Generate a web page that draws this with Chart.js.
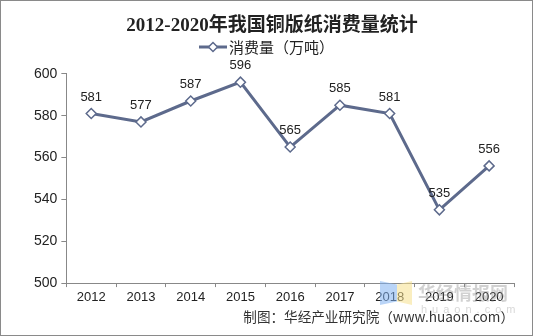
<!DOCTYPE html>
<html lang="zh">
<head>
<meta charset="UTF-8">
<title>2012-2020年我国铜版纸消费量统计</title>
<script src="https://cdn.jsdelivr.net/npm/chart.js"></script>
<style>
  html, body { margin: 0; padding: 0; background: #fff; }
  .wrap { position: relative; width: 531px; height: 334px; border: 1px solid #8a8a8a; }
  .logo { position: absolute; top: 280px; height: 24px; opacity: 0.55; }
  .logo.b { left: 379px; width: 17px; background: #7fb0f0; clip-path: polygon(0 0, 100% 15%, 100% 85%, 0 100%); }
  .logo.y { left: 396px; width: 15px; background: #f6e08c; clip-path: polygon(0 15%, 100% 0, 100% 100%, 0 85%); }
  .mark { position: absolute; left: 417px; top: 279px; font: bold 18px 'Noto Sans CJK SC', sans-serif; line-height: 24px; color: rgba(140,140,140,0.4); }
  .mark small { display: block; font: 11px 'Liberation Sans', sans-serif; line-height: 10px; letter-spacing: 5px; margin-left: 3px; color: rgba(140,140,140,0.35); }
</style>
</head>
<body>
<div class="wrap">
  <canvas id="c" width="531" height="334"></canvas>
  <div class="logo b"></div><div class="logo y"></div>
  <div class="mark">华经情报网<small>huaon.com</small></div>
</div>
<script>
const years = ['2012', '2013', '2014', '2015', '2016', '2017', '2018', '2019', '2020'];
const consumption = [581, 577, 587, 596, 565, 585, 581, 535, 556];
const yTicks = [500, 520, 540, 560, 580, 600];
const seriesName = '消费量（万吨）';

const lineColor = '#5d6a8c';
const labelFont = "13px 'Liberation Sans', Arial, sans-serif";
const legendFont = "15px 'Noto Sans CJK SC', sans-serif";

function diamond(g, x, y, r) {
  g.beginPath();
  g.moveTo(x, y - r); g.lineTo(x + r, y); g.lineTo(x, y + r); g.lineTo(x - r, y); g.closePath();
  g.fillStyle = '#fff';
  g.fill();
  g.lineWidth = 1.5;
  g.strokeStyle = lineColor;
  g.stroke();
}

// value labels above each point, plus the legend line under the title
const annotations = {
  id: 'annotations',
  afterDatasetsDraw(chart) {
    const ctx = chart.ctx;
    const meta = chart.getDatasetMeta(0);
    ctx.save();
    ctx.font = labelFont;
    ctx.fillStyle = '#222';
    ctx.textAlign = 'center';
    ctx.textBaseline = 'bottom';
    meta.data.forEach((pt, i) => {
      ctx.fillText(String(consumption[i]), pt.x, pt.y - 10);
    });

    ctx.font = legendFont;
    const tw = ctx.measureText(seriesName).width;
    const sw = 28, gap = 2, ly = 46;
    const lx = (chart.width - (sw + gap + tw)) / 2;
    ctx.strokeStyle = lineColor;
    ctx.lineWidth = 3;
    ctx.beginPath(); ctx.moveTo(lx, ly); ctx.lineTo(lx + sw, ly); ctx.stroke();
    diamond(ctx, lx + sw / 2, ly, 4.5);
    ctx.fillStyle = '#222';
    ctx.textAlign = 'left';
    ctx.textBaseline = 'middle';
    ctx.fillText(seriesName, lx + sw + gap, ly);
    ctx.restore();
  }
};

new Chart(document.getElementById('c'), {
  type: 'line',
  data: {
    labels: years,
    datasets: [{
      label: seriesName,
      data: consumption,
      borderColor: lineColor,
      borderWidth: 3,
      pointStyle: 'rectRot',
      pointRadius: 5,
      pointBorderWidth: 1.5,
      pointBackgroundColor: '#fff',
      pointBorderColor: lineColor,
      tension: 0
    }]
  },
  options: {
    responsive: false,
    animation: false,
    layout: { padding: { left: 29, right: 18, top: 4, bottom: 2 } },
    plugins: {
      title: {
        display: true,
        text: '2012-2020年我国铜版纸消费量统计',
        color: '#222',
        font: { family: "'Liberation Serif', 'Noto Sans CJK SC', serif", size: 19, weight: 'bold' },
        padding: { top: 10, bottom: 36 }
      },
      legend: { display: false },
      subtitle: {
        display: true,
        position: 'bottom',
        align: 'end',
        text: '制图：华经产业研究院（www.huaon.com）',
        color: '#333',
        font: { family: "'Noto Sans CJK SC', sans-serif", size: 13.6 },
        padding: { top: 0, bottom: 8 }
      },
      tooltip: { enabled: false }
    },
    scales: {
      x: {
        offset: true,
        grid: { drawOnChartArea: false, drawTicks: true, tickLength: 4, color: '#888', offset: true },
        border: { color: '#888' },
        ticks: { color: '#222', font: { family: "'Liberation Sans', Arial, sans-serif", size: 13 }, padding: 3 }
      },
      y: {
        min: 500,
        max: 600,
        afterBuildTicks(axis) { axis.ticks = yTicks.map(v => ({ value: v })); },
        grid: { drawOnChartArea: false, drawTicks: true, tickLength: 5, color: '#888' },
        border: { color: '#888' },
        ticks: { color: '#222', font: { family: "'Liberation Sans', Arial, sans-serif", size: 14 }, padding: 4 }
      }
    }
  },
  plugins: [annotations]
});
</script>
</body>
</html>
